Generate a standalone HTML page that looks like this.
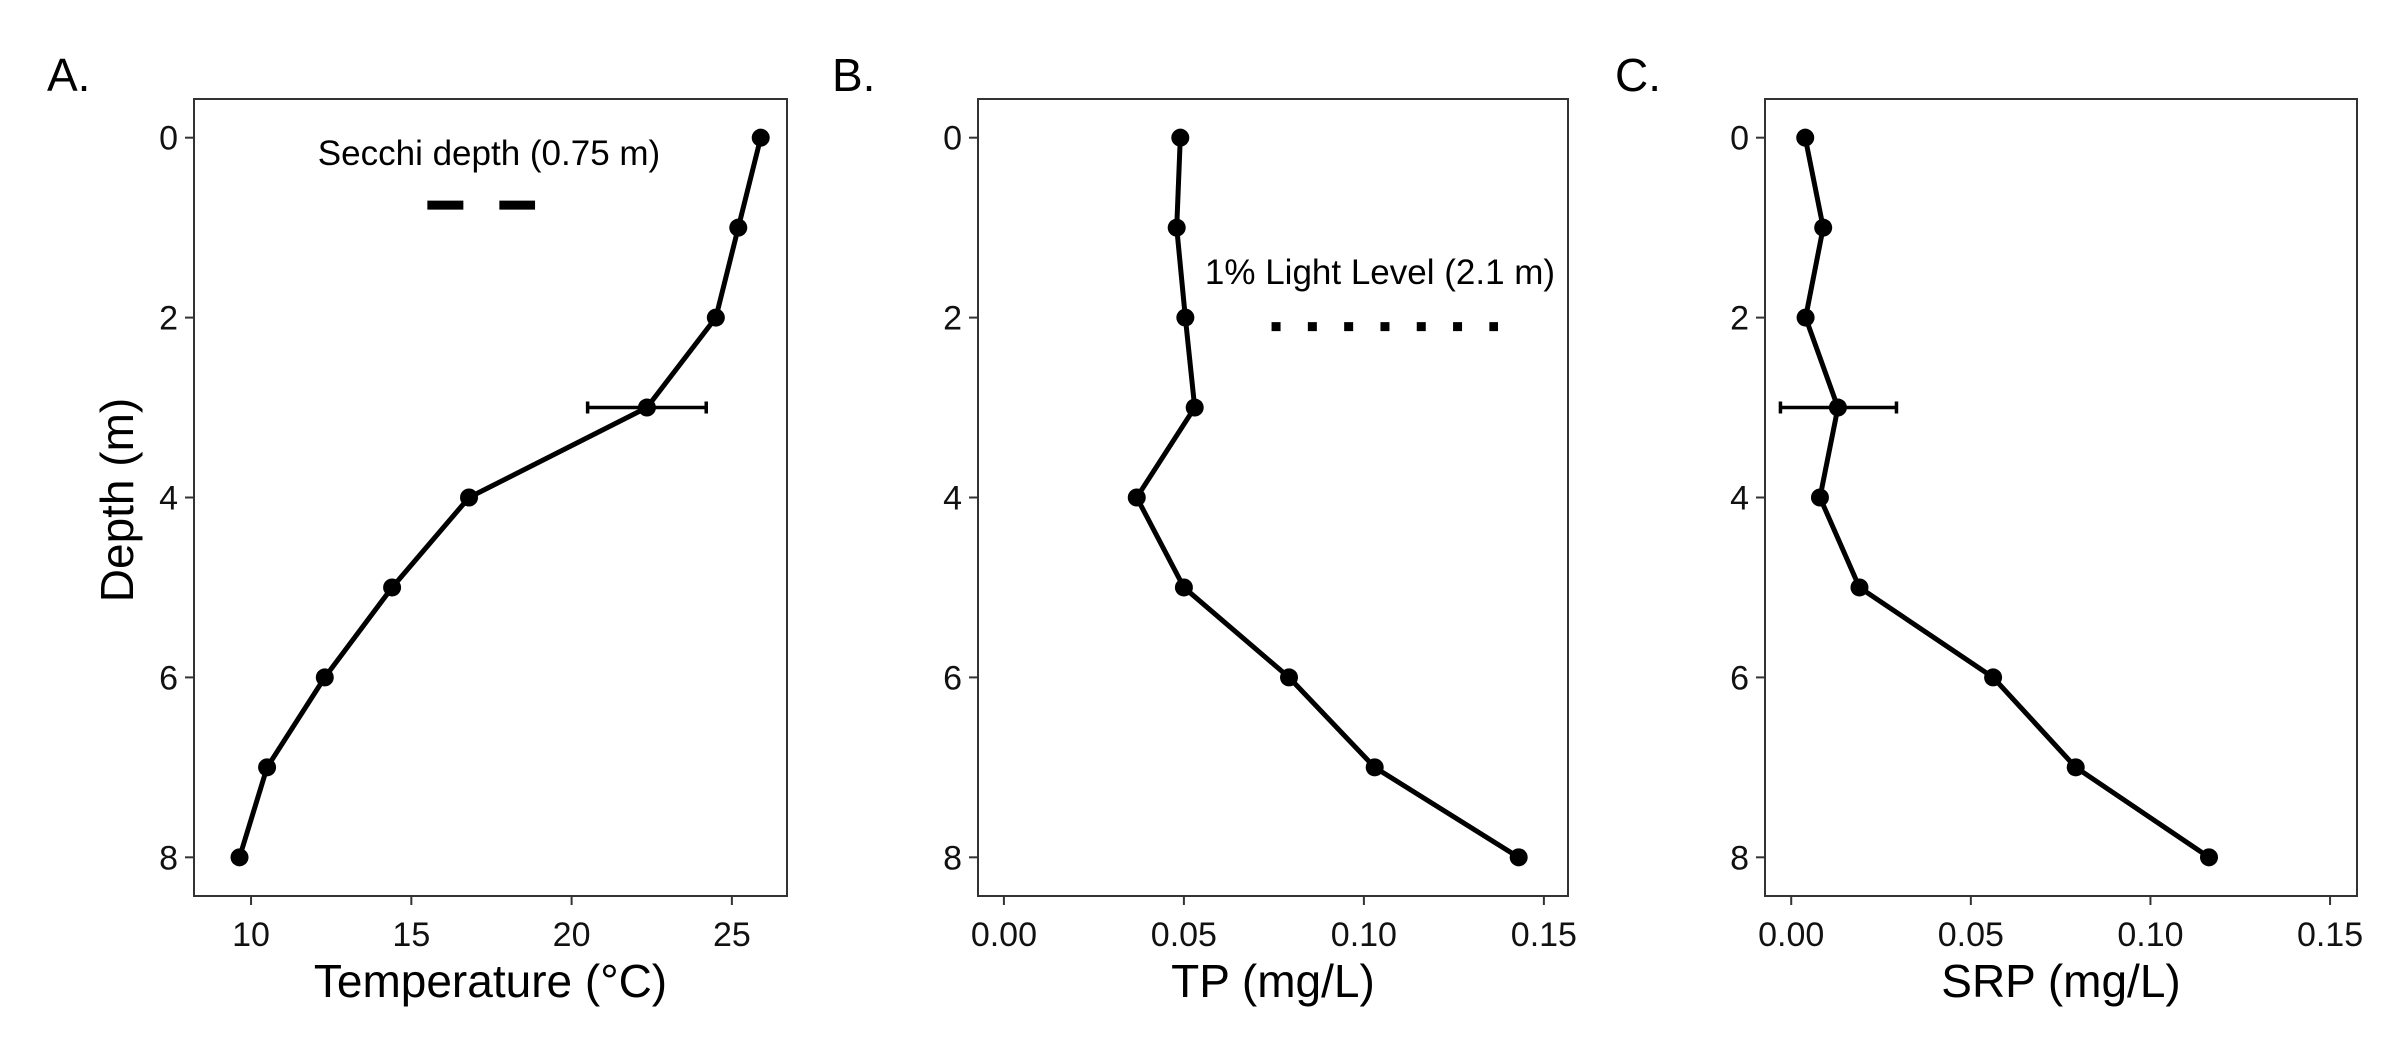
<!DOCTYPE html>
<html><head><meta charset="utf-8"><style>
html,body{margin:0;padding:0;background:#fff;}
svg{display:block;font-family:"Liberation Sans",Arial,sans-serif;}
</style></head><body>
<svg id="chart" width="2400" height="1050" viewBox="0 0 2400 1050" xmlns="http://www.w3.org/2000/svg"></svg>
<script>
const depths = [0,1,2,3,4,5,6,7,8];
const tempValues = [25.9,25.2,24.5,22.35,16.8,14.4,12.3,10.5,9.64];
const tpValues = [0.049,0.048,0.0504,0.053,0.0369,0.050,0.0792,0.103,0.143];
const srpValues = [0.0039,0.0089,0.004,0.013,0.008,0.019,0.0562,0.0792,0.1163];
const tempError = {depth:3, lo:20.5, hi:24.2};
const srpError = {depth:3, lo:-0.003, hi:0.0293};
const depthTicks = [0,2,4,6,8];
const tempTicks = [10,15,20,25];
const tempTickLabels = ["10","15","20","25"];
const pTicks = [0,0.05,0.10,0.15];
const pTickLabels = ["0.00","0.05","0.10","0.15"];
const secchiDepth = 0.75;
const lightDepth = 2.1;

const NS="http://www.w3.org/2000/svg";
const svg=document.getElementById('chart');
function mk(tag,attrs,parent){const e=document.createElementNS(NS,tag);for(const k in attrs)e.setAttribute(k,attrs[k]);(parent||svg).appendChild(e);return e;}

const yTop=99,yBot=896;
const yDomain=[-0.43,8.43];
function yScale(d){return yTop+(d-yDomain[0])/(yDomain[1]-yDomain[0])*(yBot-yTop);}

function panel(cfg){
  const g=mk('g',{});
  
  
  const xs=v=>cfg.x0+(v-cfg.dom[0])/(cfg.dom[1]-cfg.dom[0])*(cfg.x1-cfg.x0);
  const box=mk('rect',{x:cfg.x0,y:yTop,width:cfg.x1-cfg.x0,height:yBot-yTop,fill:'none',stroke:'#333',"stroke-width":2},g);
  
  
  depthTicks.forEach(d=>{
    const y=yScale(d);
    const t=mk('line',{x1:cfg.x0-9,x2:cfg.x0,y1:y,y2:y,stroke:'#333',"stroke-width":2},g);
    
    
    const l=mk('text',{x:cfg.x0-16,y:y+12,"text-anchor":'end',"font-size":34,fill:'#111'},g);
    
    
    l.textContent=String(d);
  });
  cfg.ticks.forEach((v,i)=>{
    const x=xs(v);
    const t=mk('line',{x1:x,x2:x,y1:yBot,y2:yBot+9,stroke:'#333',"stroke-width":2},g);
    
    
    const l=mk('text',{x:x,y:946,"text-anchor":'middle',"font-size":34,fill:'#111'},g);
    
    
    l.textContent=cfg.tickLabels[i];
  });
  const xt=mk('text',{x:(cfg.x0+cfg.x1)/2,y:997,"text-anchor":'middle',"font-size":46,fill:'#000'},g);
  
  
  xt.textContent=cfg.xTitle;
  const pl=mk('text',{x:cfg.labelX,y:91,"font-size":46,fill:'#000'},g);
  
  
  pl.textContent=cfg.label;
  if(cfg.err){
    const y=yScale(cfg.err.depth),a=xs(cfg.err.lo),b=xs(cfg.err.hi);
    const e=mk('path',{d:`M${a},${y}H${b}M${a},${y-6}V${y+6}M${b},${y-6}V${y+6}`,stroke:'#000',"stroke-width":3.5,fill:'none'},g);
    
    
  }
  const pts=cfg.vals.map((v,i)=>[xs(v),yScale(depths[i])]);
  const line=mk('polyline',{points:pts.map(p=>p.join(',')).join(' '),fill:'none',stroke:'#000',"stroke-width":5,"stroke-linejoin":'round'},g);
  
  
  pts.forEach(p=>{
    const c=mk('circle',{cx:p[0],cy:p[1],r:9,fill:'#000'},g);
    
    
  });
  return xs;
}

const xsA=panel({name:'panel-a-temperature',x0:194,x1:787,dom:[8.22,26.72],ticks:tempTicks,tickLabels:tempTickLabels,xTitle:'Temperature (°C)',label:'A.',labelX:47,vals:tempValues,err:tempError});
const xsB=panel({name:'panel-b-tp',x0:978,x1:1568,dom:[-0.0072,0.1567],ticks:pTicks,tickLabels:pTickLabels,xTitle:'TP (mg/L)',label:'B.',labelX:832,vals:tpValues});
const xsC=panel({name:'panel-c-srp',x0:1765,x1:2357,dom:[-0.0073,0.1575],ticks:pTicks,tickLabels:pTickLabels,xTitle:'SRP (mg/L)',label:'C.',labelX:1615,vals:srpValues,err:srpError});

const yt=mk('text',{x:0,y:0,"text-anchor":'middle',"font-size":46,transform:'translate(133,500) rotate(-90)',fill:'#000'});


yt.textContent='Depth (m)';

const st=mk('text',{x:489,y:165,"text-anchor":'middle',"font-size":35,fill:'#000'});


st.textContent='Secchi depth (0.75 m)';
const sl=mk('line',{x1:xsA(15.5),x2:xsA(18.86),y1:yScale(secchiDepth),y2:yScale(secchiDepth),stroke:'#000',"stroke-width":9,"stroke-dasharray":'36 36'});



const lt=mk('text',{x:1380,y:284,"text-anchor":'middle',"font-size":35,fill:'#000'});


lt.textContent='1% Light Level (2.1 m)';
const ll=mk('line',{x1:xsB(0.0756)-4.5,x2:xsB(0.136)+4.5,y1:yScale(lightDepth),y2:yScale(lightDepth),stroke:'#000',"stroke-width":9,"stroke-dasharray":'9 27.3'});


</script>
</body></html>
